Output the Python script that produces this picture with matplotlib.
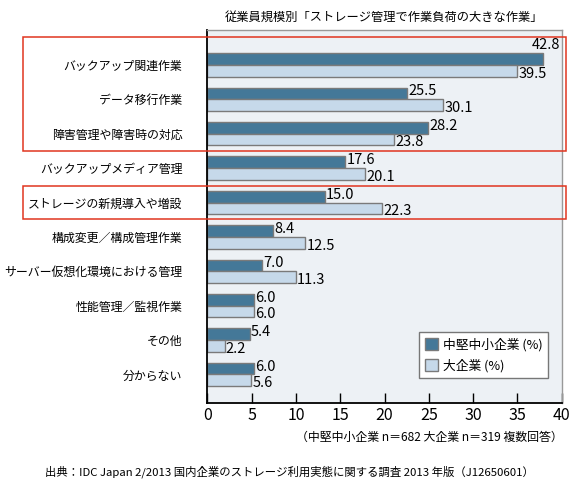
import numpy as np
import matplotlib.pyplot as plt
from matplotlib.patches import Rectangle
from matplotlib.transforms import blended_transform_factory

plt.rcParams['font.family'] = ['Noto Sans CJK JP', 'DejaVu Sans']

# data
categories = ["バックアップ関連作業", "データ移行作業", "障害管理や障害時の対応",
              "バックアップメディア管理", "ストレージの新規導入や増設",
              "構成変更／構成管理作業", "サーバー仮想化環境における管理",
              "性能管理／監視作業", "その他", "分からない"]
smb = [42.8, 25.5, 28.2, 17.6, 15.0, 8.4, 7.0, 6.0, 5.4, 6.0]
large = [39.5, 30.1, 23.8, 20.1, 22.3, 12.5, 11.3, 6.0, 2.2, 5.6]
series_names = ["中堅中小企業 (%)", "大企業 (%)"]
tick_labels = [0, 5, 10, 15, 20, 25, 30, 35, 40]
# rows framed in red (top, bottom in row units)
highlight = [(-0.82, 2.49), (3.51, 4.48)]

title = "従業員規模別「ストレージ管理で作業負荷の大きな作業」"
note = "（中堅中小企業 n＝682 大企業 n＝319 複数回答）"
source = "出典：IDC Japan 2/2013 国内企業のストレージ利用実態に関する調査 2013 年版（J12650601）"

dark = "#447898"
light = "#c6d9ea"
edge = "#7a7a7a"
num_font = ['Liberation Sans Narrow', 'Noto Sans CJK JP', 'DejaVu Sans']

fig = plt.figure(figsize=(5.76, 4.86), dpi=100)
ax = fig.add_axes([207.3/576, 1 - 403.3/486, 354.4/576, 373/486])
ax.set_facecolor("#edf1f5")

y = np.arange(len(categories))
h = 0.34
xmax = 45.2   # bar scale of the original drawing

ax.barh(y - h/2, smb, height=h, color=dark, edgecolor=edge, linewidth=1, label=series_names[0])
ax.barh(y + h/2, large, height=h, color=light, edgecolor=edge, linewidth=1, label=series_names[1])

for i in range(len(categories)):
    if smb[i] > xmax - 4:
        ax.text(xmax - 0.2, i - h - 0.05, f"{smb[i]:.1f}", ha='right', va='bottom',
                fontsize=10.5, family=num_font)
    else:
        ax.text(smb[i] + 0.15, i - h/2 - 0.06, f"{smb[i]:.1f}", ha='left', va='center',
                fontsize=10.5, family=num_font)
    ax.text(large[i] + 0.15, i + h/2 + 0.08, f"{large[i]:.1f}", ha='left', va='center',
            fontsize=10.5, family=num_font)

ax.set_xlim(0, xmax)
ax.set_ylim(len(categories) - 1 + 0.84, -1.01)
ax.set_xticks(np.linspace(0, xmax, len(tick_labels)))
ax.set_xticklabels([str(t) for t in tick_labels], family=num_font, fontsize=11.5)
ax.set_yticks(y)
ax.set_yticklabels(categories, fontsize=8.6)
ax.tick_params(axis='y', length=0, pad=18)
ax.tick_params(axis='x', direction='in', length=7, width=1, pad=3)

for s in ['top', 'right']:
    ax.spines[s].set_color("#999999")
    ax.spines[s].set_linewidth(1)
for s in ['left', 'bottom']:
    ax.spines[s].set_color("black")
    ax.spines[s].set_linewidth(1.3)

leg = ax.legend(loc='lower right', bbox_to_anchor=(0.98, 0.05), fontsize=9.2,
                frameon=True, fancybox=False, edgecolor="#777777", framealpha=1,
                handlelength=1.0, handleheight=1.0, handletextpad=0.4,
                labelspacing=0.6, borderpad=0.45)
leg.get_frame().set_linewidth(1)

tr = blended_transform_factory(fig.transFigure, ax.transData)
for top, bot in highlight:
    ax.add_patch(Rectangle((23.3/576, top), (565.7 - 23.3)/576, bot - top, transform=tr,
                           fill=False, edgecolor="#e0351f", linewidth=1.1,
                           clip_on=False, zorder=10))

fig.text(384.5/576, 1 - 17/486, title, ha='center', va='center', fontsize=8.8)
fig.text(563/576, 1 - 437/486, note, ha='right', va='center', fontsize=8.6)
fig.text(45/576, 1 - 472/486, source, ha='left', va='center', fontsize=8.2)

fig.savefig("out.png", dpi=100)
